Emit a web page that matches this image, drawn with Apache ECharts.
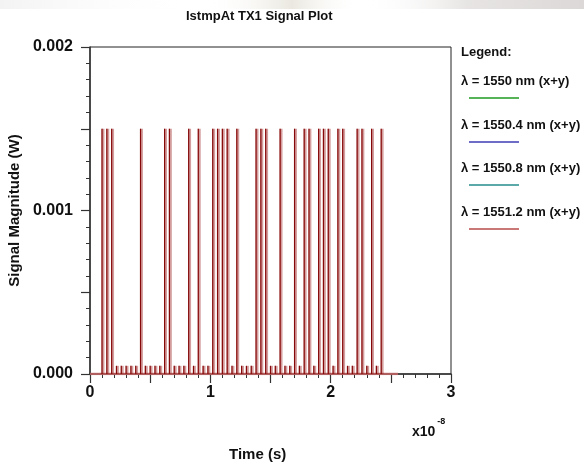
<!DOCTYPE html>
<html>
<head>
<meta charset="utf-8">
<script src="https://cdn.jsdelivr.net/npm/echarts@6/dist/echarts.min.js"></script>
<style>
html,body{margin:0;padding:0;background:#fff;}
#chart{width:584px;height:466px;}
</style>
</head>
<body>
<div id="chart"></div>
<script>
// ---- data ----
const bitPeriod = 0.4e-9;          // slot width (s)
const firstSlot = 2;               // first occupied slot index
const bits = [1,1,1,0,0,0,0,0,1,0, 0,0,0,1,1,0,0,0,1,0,
              1,0,0,1,1,1,1,0,1,0, 0,0,1,1,1,0,0,1,0,0,
              1,0,1,1,0,1,1,1,0,1, 1,0,0,1,1,0,1,0,1];
const highLevel = 0.0015;          // W
const lowLevel = 0.00005;          // W
const baselineX = [0, 2.56e-8];
const baselineY = [0, 0];
const legendNames = ['λ = 1550 nm (x+y)','λ = 1550.4 nm (x+y)','λ = 1550.8 nm (x+y)','λ = 1551.2 nm (x+y)'];
const legendColors = ['#1f9a1f','#3c3cb4','#268c8c','#b84a4a'];
const yTickLabels = [0, 0.001, 0.002];
const xTickLabels = [0, 1, 2, 3];

const pulseData = bits.map((b, i) => [(firstSlot + i + 0.5) * bitPeriod, b ? highLevel : lowLevel]);
const baseData = baselineX.map((x, i) => [x, baselineY[i]]);

const FONT = 'Liberation Sans';
const chart = echarts.init(document.getElementById('chart'), null, {renderer: 'canvas'});

const legendGraphics = [];
legendGraphics.push({type:'text', left: 461, top: 46, style:{text:'Legend:', font:'bold 13px "Liberation Sans"', fill:'#111'}});
const lineYs = [98, 142, 185, 229];
legendNames.forEach((n, i) => {
  legendGraphics.push({type:'text', left: 461, top: lineYs[i] - 23, style:{text: n, font:'bold 13px "Liberation Sans"', fill:'#111'}});
  legendGraphics.push({type:'line', shape:{x1:469, y1:lineYs[i], x2:519, y2:lineYs[i]}, style:{stroke: legendColors[i], lineWidth: 1.5}});
});

const option = {
  backgroundColor: '#fff',
  animation: false,
  grid: {left: 90, right: 133, top: 47, bottom: 92, show: true, borderColor: '#222', borderWidth: 1,
         containLabel: false, outerBoundsMode: 'none'},
  xAxis: {
    type: 'value', min: 0, max: 3e-8, interval: 0.5e-8,
    axisLine: {show: true, onZero: false, lineStyle: {color: '#333', width: 1.5}},
    axisTick: {show: true, length: 9, lineStyle: {color: '#333', width: 1.2}},
    minorTick: {show: true, splitNumber: 5, length: 4, lineStyle: {color: '#333', width: 1}},
    splitLine: {show: false},
    axisLabel: {
      margin: 11, color: '#111', fontFamily: FONT, fontSize: 16, fontWeight: 'bold',
      formatter: v => {
        const u = v / 1e-8;
        const r = Math.round(u);
        return (Math.abs(u - r) < 1e-6 && xTickLabels.indexOf(r) >= 0) ? String(r) : '';
      }
    }
  },
  yAxis: {
    type: 'value', min: 0, max: 0.002, interval: 0.0005,
    name: 'Signal Magnitude (W)', nameLocation: 'middle', nameGap: 62, nameRotate: 90,
    nameTextStyle: {fontFamily: FONT, fontSize: 15, fontWeight: 'bold', color: '#111'},
    axisLine: {show: true, onZero: false, lineStyle: {color: '#333', width: 1.5}},
    axisTick: {show: true, length: 9, lineStyle: {color: '#333', width: 1.2}},
    minorTick: {show: true, splitNumber: 5, length: 4, lineStyle: {color: '#333', width: 1}},
    splitLine: {show: false},
    axisLabel: {
      margin: 17, color: '#111', fontFamily: FONT, fontSize: 16, fontWeight: 'bold',
      formatter: v => {
        const m = v * 1000;
        const r = Math.round(m);
        return (Math.abs(m - r) < 1e-6 && yTickLabels.indexOf(r / 1000) >= 0) ? v.toFixed(3) : '';
      }
    }
  },
  series: [
    {type: 'line', data: baseData, symbol: 'none', lineStyle: {color: 'rgba(200,100,100,0.8)', width: 2.5}, z: 2},
    {type: 'bar', data: pulseData, barWidth: 3, barGap: '-100%', itemStyle: {color: 'rgba(160,40,40,0.45)'}, z: 3},
    {type: 'bar', data: pulseData, barWidth: 1.2, barGap: '-100%', itemStyle: {color: '#870808'}, z: 4}
  ],
  graphic: [
    {type:'rect', left: 0, top: 0, z: -10, shape:{width: 584, height: 9},
     style:{fill: new echarts.graphic.LinearGradient(0, 0, 1, 0, [
       {offset: 0, color: 'rgba(235,235,235,0.6)'},
       {offset: 0.35, color: 'rgba(255,255,255,0)'},
       {offset: 0.5, color: 'rgba(225,222,210,0.7)'},
       {offset: 0.62, color: 'rgba(255,255,255,0)'},
       {offset: 0.8, color: 'rgba(225,222,220,0.8)'},
       {offset: 1, color: 'rgba(215,212,210,0.9)'}])}},
    {type:'text', left: 186, top: 10, style:{text:'IstmpAt TX1 Signal Plot', font:'bold 13px "Liberation Sans"', fill:'#111'}},
    {type:'text', left: 229, top: 447, style:{text:'Time (s)', font:'bold 15px "Liberation Sans"', fill:'#111'}},
    {type:'text', left: 412, top: 417, style:{
      text: '{a|x10}{b|-8}', rich: {
        a: {font: 'bold 14px "Liberation Sans"', fill:'#111', padding:[8,0,0,0]},
        b: {font: 'bold 9px "Liberation Sans"', fill:'#111', verticalAlign: 'top', padding:[0,0,8,2]}
      }}},
    ...legendGraphics
  ]
};
chart.setOption(option);
</script>
</body>
</html>
